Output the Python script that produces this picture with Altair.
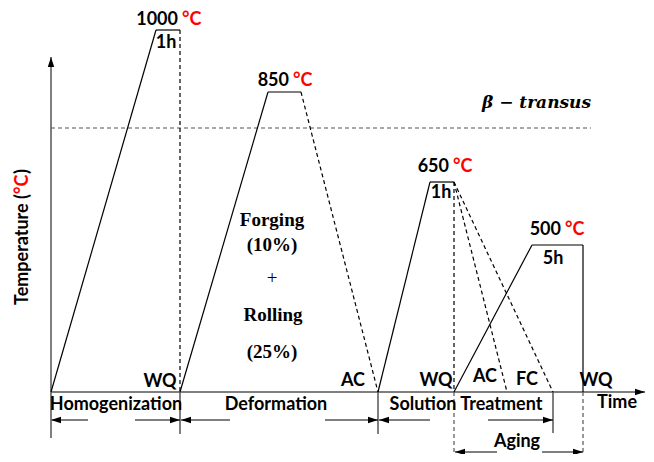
import altair as alt
import pandas as pd

# ---- schematic profile (time position, temperature position in schematic units) ----
# solid heating/holding segments
solid_x1 = [51, 156, 180, 268, 378, 430, 454, 532, 583]
solid_y1 = [392, 30, 392, 92, 392, 182, 392, 245, 245]
solid_x2 = [156, 180, 268, 301, 430, 454, 532, 583, 583]
solid_y2 = [30, 30, 92, 92, 182, 182, 245, 245, 392]

# dashed cooling segments (WQ, AC, WQ/AC/FC)
dash_x1 = [180, 301, 454, 454, 454]
dash_y1 = [30, 92, 182, 182, 182]
dash_x2 = [180, 378, 454, 507, 553]
dash_y2 = [392, 392, 392, 392, 392]

# axes and stage separators (solid grey)
axis_x1 = [51, 51, 180, 378, 553]
axis_y1 = [57, 392, 392, 392, 392]
axis_x2 = [51, 645, 180, 378, 553]
axis_y2 = [438, 392, 434, 434, 433]

# dashed grey separators + beta transus
gdash_x1 = [454, 583, 51]
gdash_y1 = [392, 392, 128]
gdash_x2 = [454, 583, 591]
gdash_y2 = [454, 454, 128]

# stage arrows shafts
shaft_x1 = [52, 135, 181, 325, 379, 488, 455, 542]
shaft_x2 = [88, 180, 230, 378, 430, 553, 497, 583]
shaft_y = [420, 420, 420, 420, 420, 420, 452, 452]

# arrow heads
left_x = [51, 181, 379, 455]
left_y = [420, 420, 420, 452]
right_x = [180, 378, 553, 583, 645]
right_y = [420, 420, 420, 452, 392]
up_x = [51]
up_y = [57]

# ---- labels ----
temp_vals = ["1000", "850", "650", "500"]
temp_x = [178, 289, 449, 561]
temp_y = [20, 81, 167, 230]

sans_text = ["1h", "1h", "5h", "WQ", "AC", "WQ", "AC", "FC", "WQ",
             "Homogenization", "Deformation", "Solution Treatment", "Time", "Aging"]
sans_x = [166, 441, 553, 160, 353, 436, 485, 527, 596, 116, 276, 466, 617, 517]
sans_y = [43, 193, 259, 382, 381, 381, 377, 380, 381, 405, 405, 405, 403, 442]

serif_text = ["Forging", "(10%)", "Rolling", "(25%)"]
serif_x = [272, 272, 273, 272]
serif_y = [220, 245, 315, 352]
plus_text = ["+"]
plus_x = [272]
plus_y = [278]

beta_text = ["\u03b2 \u2212 transus"]
beta_x = [591]
beta_y = [103]

FONT = "Lato"

xs = alt.Scale(domain=[8, 646], nice=False, zero=False)
ys = alt.Scale(domain=[8, 454], reverse=True, nice=False, zero=False)


def X(f="x"):
    return alt.X(f, type="quantitative", scale=xs, axis=None)


def Y(f="y"):
    return alt.Y(f, type="quantitative", scale=ys, axis=None)


def seg_layer(x1, y1, x2, y2, **kw):
    df = pd.DataFrame({"x": x1, "y": y1, "x2": x2, "y2": y2})
    return alt.Chart(df).mark_rule(**kw).encode(x=X(), y=Y(), x2="x2", y2="y2")


solid = seg_layer(solid_x1, solid_y1, solid_x2, solid_y2, color="black", strokeWidth=1.2)
dashed = seg_layer(dash_x1, dash_y1, dash_x2, dash_y2, color="black", strokeWidth=1.2,
                   strokeDash=[4, 3])
axes = seg_layer(axis_x1, axis_y1, axis_x2, axis_y2, color="#555555", strokeWidth=1.5)
gdash = seg_layer(gdash_x1, gdash_y1, gdash_x2, gdash_y2, color="#555555", strokeWidth=1.2,
                  strokeDash=[4, 3])
shafts = seg_layer(shaft_x1, shaft_y, shaft_x2, shaft_y, color="black", strokeWidth=1.2)


def head_layer(xv, yv, path):
    df = pd.DataFrame({"x": xv, "y": yv})
    return alt.Chart(df).mark_point(shape=path, filled=True, color="black", size=400,
                                    opacity=1).encode(x=X(), y=Y())


heads_l = head_layer(left_x, left_y, "M0,0 L1,-0.32 L1,0.32 Z")
heads_r = head_layer(right_x, right_y, "M0,0 L-1,-0.32 L-1,0.32 Z")
heads_u = head_layer(up_x, up_y, "M0,0 L-0.32,1 L0.32,1 Z")


def text_layer(tv, xv, yv, **kw):
    df = pd.DataFrame({"x": xv, "y": yv, "t": tv})
    return alt.Chart(df).mark_text(baseline="middle", **kw).encode(x=X(), y=Y(), text="t:N")


temps = text_layer(temp_vals, temp_x, temp_y, font=FONT, fontSize=18, fontWeight="bold",
                   color="black", align="right")
degs = text_layer(["\u00b0C"] * 4, [x + 4 for x in temp_x], temp_y, font=FONT, fontSize=18,
                  fontWeight="bold", color="red", align="left")
sans = text_layer(sans_text, sans_x, sans_y, font=FONT, fontSize=18, fontWeight="bold",
                  color="black", align="center")
serif = text_layer(serif_text, serif_x, serif_y, font="Liberation Serif", fontSize=19,
                   fontWeight="bold", color="black", align="center")
plus = text_layer(plus_text, plus_x, plus_y, font="Liberation Serif", fontSize=19,
                  color="black", align="center")
beta = text_layer(beta_text, beta_x, beta_y, font="DejaVu Serif", fontSize=17,
                  fontWeight="bold", fontStyle="italic", color="black", align="right")

ttl1 = text_layer(["Temperature ("], [23], [194], font=FONT, fontSize=18, fontWeight="bold",
                  color="black", align="right", angle=270)
ttl2 = text_layer(["\u00b0C"], [23], [194], font=FONT, fontSize=18, fontWeight="bold",
                  color="red", align="left", angle=270)
ttl3 = text_layer([")"], [23], [174], font=FONT, fontSize=18, fontWeight="bold",
                  color="black", align="left", angle=270)

chart = alt.layer(
    gdash, axes, solid, dashed, shafts, heads_l, heads_r, heads_u,
    temps, degs, sans, serif, plus, beta, ttl1, ttl2, ttl3
).properties(
    width=638, height=446, autosize=alt.AutoSizeParams(type="none"), padding=0,
    background="white"
).configure_view(strokeWidth=0)

chart.save("out.html", embed_options={"renderer": "svg", "actions": False})
